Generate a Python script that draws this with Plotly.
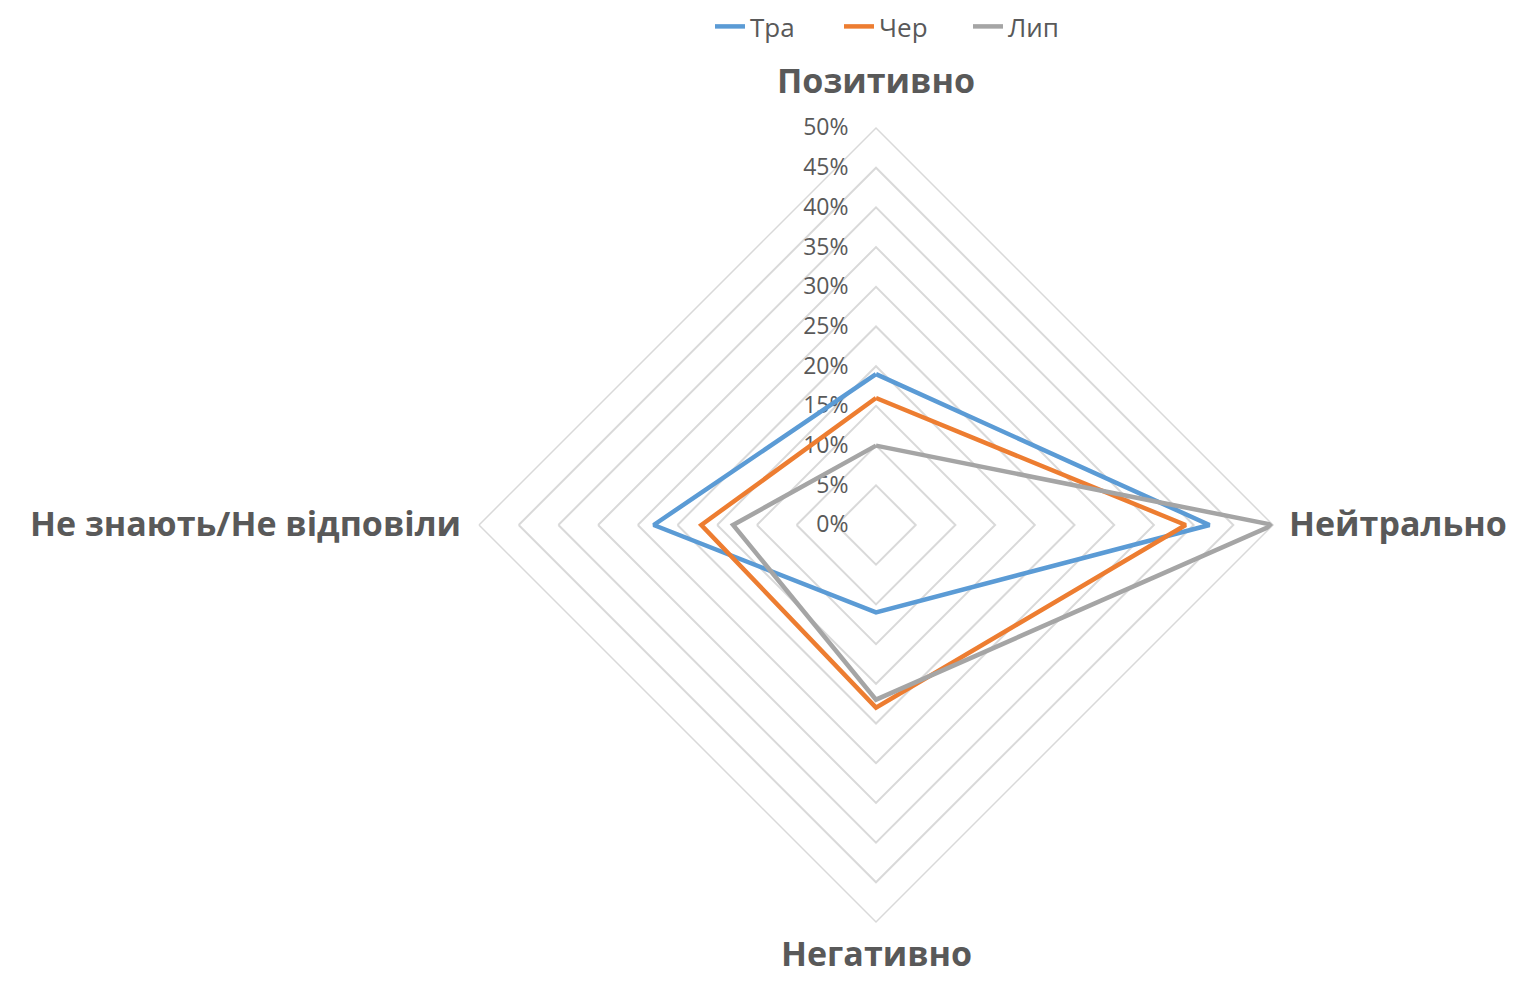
import plotly.graph_objects as go

categories = ["Позитивно", "Нейтрально", "Негативно", "Не знають/Не відповіли"]
series_names = ["Тра", "Чер", "Лип"]
tra = [19, 42, 11, 28]
cher = [16, 39, 23, 22]
lyp = [10, 50, 22, 18]
colors = ["#5B9BD5", "#ED7D31", "#A5A5A5"]

fig = go.Figure()
for name, vals, col in zip(series_names, [tra, cher, lyp], colors):
    fig.add_trace(go.Scatterpolar(
        r=vals + [vals[0]],
        theta=categories + [categories[0]],
        mode="lines",
        name=name,
        line=dict(color=col, width=4.5),
    ))

# page body has an 8px margin; figure coords = screen coords - 8
W, H = 1503, 968
cx, cy, R = 868, 517, 397
label_font = dict(size=34, color="#595959", family="Open Sans", weight="bold")

# category labels placed just outside the polygon vertices
label_pos = [
    (cx, cy - R - 48, "center", "middle"),
    (cx + R + 14, cy - 2, "left", "middle"),
    (cx, cy + R + 31, "center", "middle"),
    (cx - R - 16, cy - 2, "right", "middle"),
]
for cat, (px, py, xa, ya) in zip(categories, label_pos):
    fig.add_annotation(text=cat, x=px / W, y=1 - py / H, xref="paper", yref="paper",
                       xanchor=xa, yanchor=ya, showarrow=False, font=label_font)

fig.update_layout(
    width=W, height=H,
    margin=dict(l=0, r=0, t=0, b=0, autoexpand=False),
    paper_bgcolor="white",
    font=dict(family="Open Sans", color="#595959"),
    showlegend=True,
    legend=dict(orientation="h", x=702 / W, xanchor="left", y=1 + 5 / H, yanchor="top",
                font=dict(size=26, color="#595959"), entrywidth=84),
    polar=dict(
        domain=dict(x=[(cx - R) / W, (cx + R) / W], y=[(H - cy - R) / H, (H - cy + R) / H]),
        gridshape="linear",
        bgcolor="white",
        radialaxis=dict(
            range=[0, 50], dtick=5, ticksuffix="%", angle=90, tickangle=90,
            showline=False, gridcolor="#D9D9D9", gridwidth=1.5,
            tickfont=dict(size=23, color="#595959"), side="counterclockwise",
            ticks="outside", ticklen=19, tickcolor="rgba(0,0,0,0)",
            layer="below traces",
        ),
        angularaxis=dict(
            rotation=90, direction="clockwise", showgrid=False,
            linecolor="#D9D9D9", linewidth=1.5, showticklabels=False,
            ticks="", layer="below traces",
        ),
    ),
)
fig.write_html("out.html")
